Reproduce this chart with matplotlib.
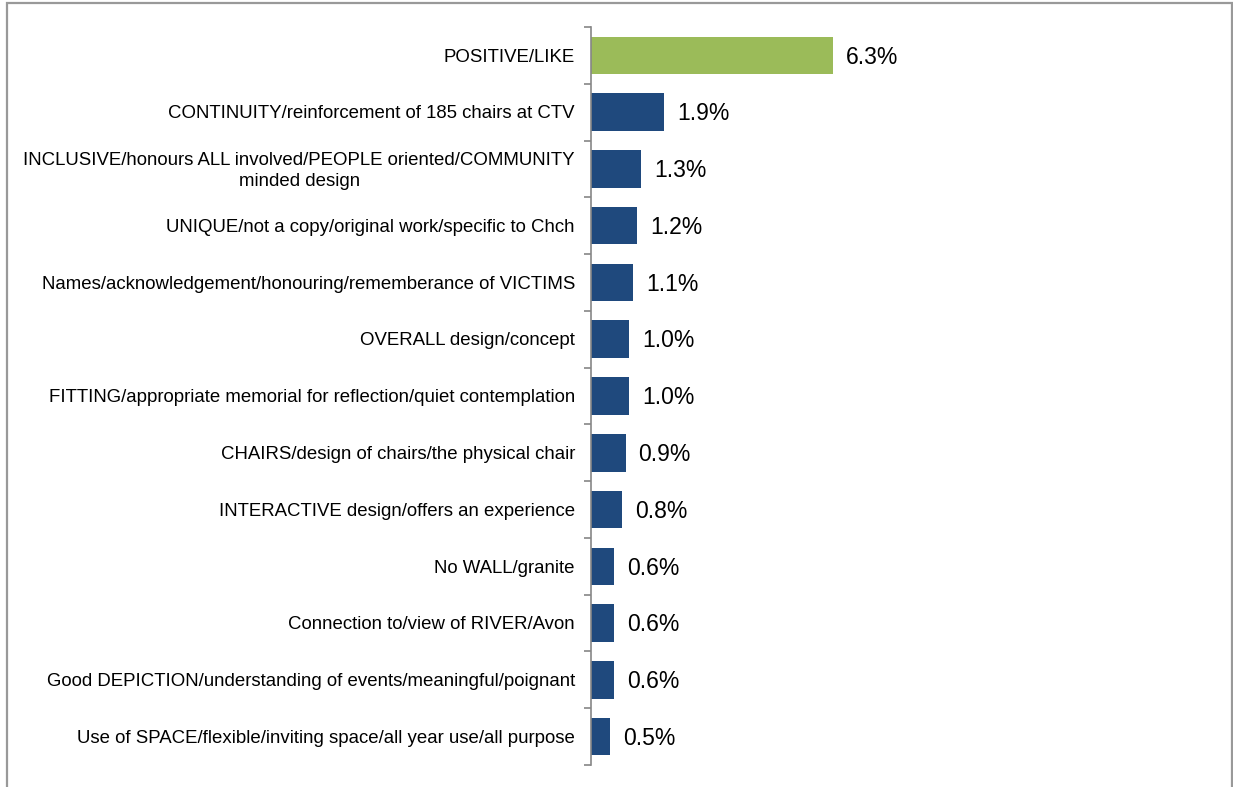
import matplotlib.pyplot as plt
from matplotlib.patches import Rectangle

plt.rcParams['font.family'] = ['Liberation Sans', 'DejaVu Sans']

categories = [
    "POSITIVE/LIKE",
    "CONTINUITY/reinforcement of 185 chairs at CTV",
    "INCLUSIVE/honours ALL involved/PEOPLE oriented/COMMUNITY\nminded design",
    "UNIQUE/not a copy/original work/specific to Chch",
    "Names/acknowledgement/honouring/rememberance of VICTIMS",
    "OVERALL design/concept",
    "FITTING/appropriate memorial for reflection/quiet contemplation",
    "CHAIRS/design of chairs/the physical chair",
    "INTERACTIVE design/offers an experience",
    "No WALL/granite",
    "Connection to/view of RIVER/Avon",
    "Good DEPICTION/understanding of events/meaningful/poignant",
    "Use of SPACE/flexible/inviting space/all year use/all purpose",
]
values = [6.3, 1.9, 1.3, 1.2, 1.1, 1.0, 1.0, 0.9, 0.8, 0.6, 0.6, 0.6, 0.5]

green = '#9BBB59'
navy = '#1F497D'
colors = [green] + [navy] * (len(values) - 1)

W, H = 1233, 787
fig = plt.figure(figsize=(W / 100, H / 100), dpi=100)

# outer frame like the original chart box
fig.patches.append(Rectangle((7 / W, -0.05), (1232 - 7) / W, (H - 3) / H + 0.05,
                             transform=fig.transFigure, fill=False,
                             edgecolor='#999999', linewidth=1.6))

ax = fig.add_axes([591 / W, 22 / H, 609 / W, 738 / H])

pos = list(range(len(values)))
ax.barh(pos, values, height=0.66, color=colors)
ax.set_ylim(len(values) - 0.5, -0.5)
ax.set_xlim(0, 609 / 38.4)

for y, v in zip(pos, values):
    ax.text(v + 0.34, y + 0.03, f"{v:.1f}%", va='center', ha='left', fontsize=16.5)

for y, c in zip(pos, categories):
    ax.text(-16 / 38.4, y + 0.03, c, va='center', ha='right', fontsize=13.4,
            multialignment='center', linespacing=1.3)

ax.set_yticks([p - 0.5 for p in pos] + [len(values) - 0.5])
ax.set_yticklabels([])
ax.tick_params(axis='y', length=5, width=1.2, color='#868686', direction='out')
ax.set_xticks([])

for s in ['top', 'right', 'bottom']:
    ax.spines[s].set_visible(False)
ax.spines['left'].set_color('#868686')
ax.spines['left'].set_linewidth(1.2)

fig.savefig('out.png', dpi=100)
